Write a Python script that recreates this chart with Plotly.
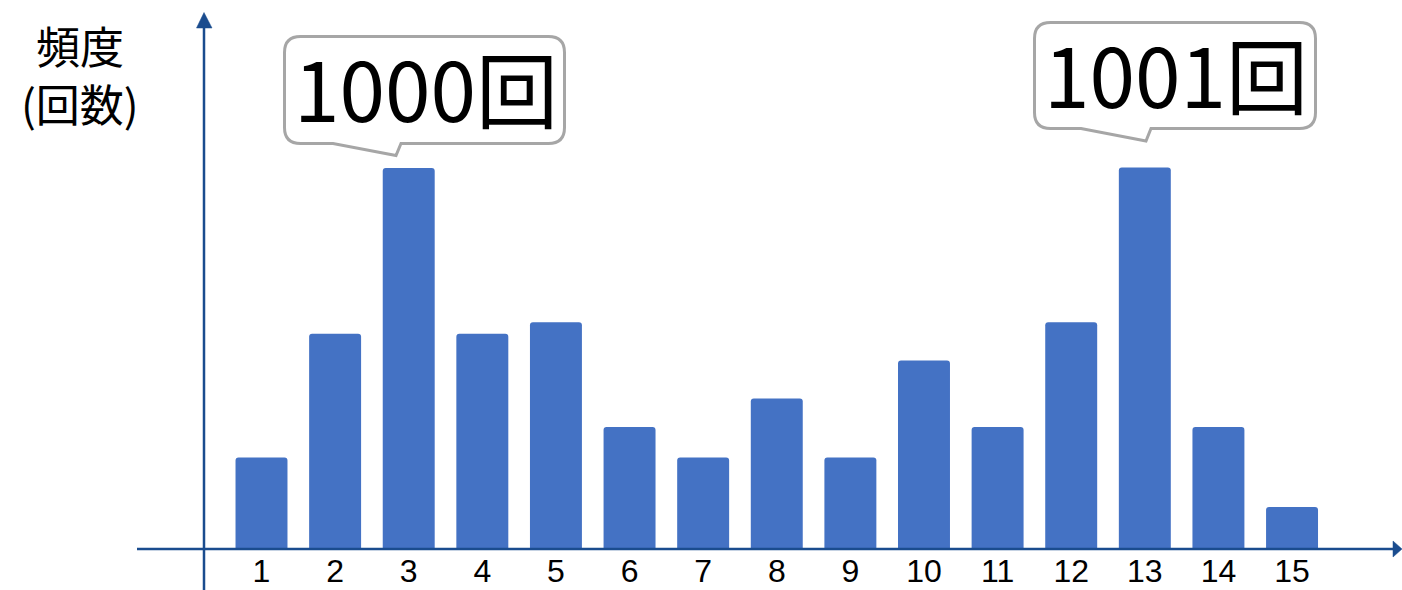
import plotly.graph_objects as go

# --- data -------------------------------------------------------------
categories = [str(i) for i in range(1, 16)]
frequency = [240, 565, 1000, 565, 595, 320, 240, 395, 240, 495, 320, 595, 1001, 320, 110]
callout_texts = ["1000回", "1001回"]
y_title_lines = ["頻度", "(回数)"]

# --- figure geometry (pixels) -----------------------------------------
W, H = 1402, 590
BASE_PX = 549          # baseline of the bars
MARGIN_B = H - BASE_PX
PLOT_H = BASE_PX

AXIS_COLOR = "#1A4C8E"
BAR_COLOR = "#4472C4"
CALLOUT_LINE = "#A6A6A6"


def px(xp):
    return xp / W


def py(yp):
    return (BASE_PX - yp) / PLOT_H


fig = go.Figure()
fig.add_trace(go.Bar(
    x=list(range(1, 16)),
    y=frequency,
    marker=dict(color=BAR_COLOR, line=dict(width=0), cornerradius=3),
    hoverinfo="skip",
))

shapes = []

# horizontal axis with arrow head
shapes.append(dict(type="line", xref="paper", yref="paper",
                   x0=px(137), x1=px(1396), y0=py(549), y1=py(549),
                   line=dict(color=AXIS_COLOR, width=2.5)))
shapes.append(dict(type="path", xref="paper", yref="paper",
                   path=f"M {px(1393)},{py(541)} L {px(1402)},{py(549)} L {px(1393)},{py(557)} Z",
                   fillcolor=AXIS_COLOR, line=dict(color=AXIS_COLOR, width=0.5)))

# vertical axis with arrow head
shapes.append(dict(type="line", xref="paper", yref="paper",
                   x0=px(204), x1=px(204), y0=py(590), y1=py(26),
                   line=dict(color=AXIS_COLOR, width=2.5)))
shapes.append(dict(type="path", xref="paper", yref="paper",
                   path=f"M {px(196.5)},{py(28)} L {px(204)},{py(12.5)} L {px(212)},{py(28)} Z",
                   fillcolor=AXIS_COLOR, line=dict(color=AXIS_COLOR, width=0.5)))


def callout_path(left, right, top, bottom, r, tail_l, tip, tail_r):
    pts = [
        f"M {px(left + r)},{py(top)}",
        f"L {px(right - r)},{py(top)}",
        f"Q {px(right)},{py(top)} {px(right)},{py(top + r)}",
        f"L {px(right)},{py(bottom - r)}",
        f"Q {px(right)},{py(bottom)} {px(right - r)},{py(bottom)}",
        f"L {px(tail_r)},{py(bottom)}",
        f"L {px(tip[0])},{py(tip[1])}",
        f"L {px(tail_l)},{py(bottom)}",
        f"L {px(left + r)},{py(bottom)}",
        f"Q {px(left)},{py(bottom)} {px(left)},{py(bottom - r)}",
        f"L {px(left)},{py(top + r)}",
        f"Q {px(left)},{py(top)} {px(left + r)},{py(top)}",
        "Z",
    ]
    return " ".join(pts)


callout_boxes = [
    dict(left=284.5, right=564.5, top=36.5, bottom=143.5, tail_l=333, tip=(396, 155.5), tail_r=401),
    dict(left=1034.5, right=1315.5, top=22.5, bottom=128.5, tail_l=1081, tip=(1146, 141), tail_r=1151),
]

annotations = []
for box, text in zip(callout_boxes, callout_texts):
    shapes.append(dict(type="path", xref="paper", yref="paper",
                       path=callout_path(box["left"], box["right"], box["top"], box["bottom"], 16,
                                         box["tail_l"], box["tip"], box["tail_r"]),
                       fillcolor="white", line=dict(color=CALLOUT_LINE, width=3)))
    annotations.append(dict(
        xref="paper", yref="paper",
        x=px((box["left"] + box["right"]) / 2 + 1), y=py((box["top"] + box["bottom"]) / 2 - 3),
        text=text, showarrow=False, xanchor="center", yanchor="middle",
        font=dict(family="Noto Sans CJK JP", size=82, color="black"),
    ))

# vertical axis title, one annotation per line
for line_text, centre_y in zip(y_title_lines, [45, 103]):
    annotations.append(dict(
        xref="paper", yref="paper", x=px(80), y=py(centre_y),
        text=line_text, showarrow=False, xanchor="center", yanchor="middle",
        font=dict(family="Noto Sans CJK JP", size=44, color="black"),
    ))

scale = 73.61
x0 = 1 - 261.5 / scale
x1 = x0 + W / scale

fig.update_layout(
    width=W, height=H,
    margin=dict(l=0, r=0, t=0, b=MARGIN_B, pad=0, autoexpand=False),
    paper_bgcolor="white", plot_bgcolor="white",
    showlegend=False,
    bargap=0.294,
    shapes=shapes,
    annotations=annotations,
    xaxis=dict(range=[x0, x1], tickmode="array", tickvals=list(range(1, 16)),
               ticktext=categories, ticks="", showgrid=False, zeroline=False,
               showline=False, tickfont=dict(family="Liberation Sans", size=32, color="black"),
               ticklabelstandoff=0, automargin=False, fixedrange=True),
    yaxis=dict(range=[0, BASE_PX / 0.381], visible=False, showgrid=False,
               zeroline=False, automargin=False, fixedrange=True),
)

fig.write_html("out.html", config={"displayModeBar": False})
